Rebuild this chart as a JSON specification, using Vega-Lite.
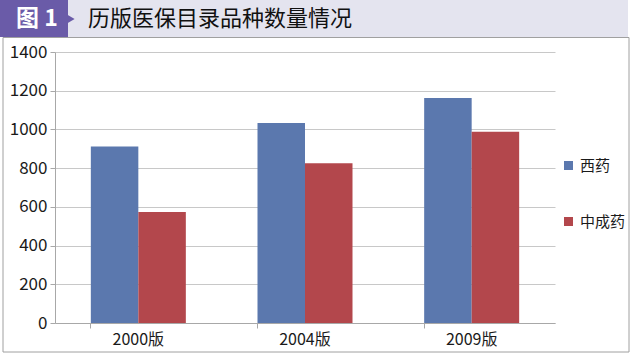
{
  "$schema": "https://vega.github.io/schema/vega-lite/v6.json",
  "width": 500,
  "height": 271,
  "autosize": {"type": "none"},
  "padding": {"left": 55, "top": 52, "right": 77, "bottom": 33},
  "background": "#ffffff",
  "config": {
    "view": {"stroke": null},
    "font": "Noto Sans CJK SC",
    "axis": {"labelFont": "Noto Sans CJK SC", "labelColor": "#1a1a1a"},
    "legend": {"labelFont": "Noto Sans CJK SC"}
  },
  "data": {
    "values": [
      {"edition": "2000版", "type": "西药", "count": 912},
      {"edition": "2000版", "type": "中成药", "count": 573},
      {"edition": "2004版", "type": "西药", "count": 1033},
      {"edition": "2004版", "type": "中成药", "count": 825},
      {"edition": "2009版", "type": "西药", "count": 1162},
      {"edition": "2009版", "type": "中成药", "count": 988}
    ]
  },
  "layer": [
    {
      "data": {"values": [{}]},
      "mark": {"type": "rect", "fill": "#e4e4ef", "stroke": null},
      "encoding": {"x": {"value": -55}, "x2": {"value": 573}, "y": {"value": -52}, "y2": {"value": -15}}
    },
    {
      "data": {"values": [{}]},
      "mark": {"type": "rect", "fill": null, "filled": false, "stroke": "#a0a0a0", "strokeWidth": 1},
      "encoding": {"x": {"value": -52}, "x2": {"value": 574}, "y": {"value": -14.5}, "y2": {"value": 300}}
    },
    {
      "data": {"values": [{}]},
      "mark": {"type": "rect", "fill": "#6a5ba8"},
      "encoding": {"x": {"value": -55}, "x2": {"value": 13}, "y": {"value": -52}, "y2": {"value": -15}}
    },
    {
      "data": {"values": [{}]},
      "mark": {"type": "point", "shape": "triangle-right", "filled": true, "fill": "#6a5ba8", "size": 70, "opacity": 1},
      "encoding": {"x": {"value": 16}, "y": {"value": -33}}
    },
    {
      "data": {"values": [{}]},
      "mark": {"type": "text", "text": "图 1", "color": "#ffffff", "fontSize": 23, "fontWeight": "bold", "align": "center", "baseline": "middle"},
      "encoding": {"x": {"value": -18}, "y": {"value": -33}}
    },
    {
      "data": {"values": [{}]},
      "mark": {"type": "text", "text": "历版医保目录品种数量情况", "color": "#111111", "fontSize": 22, "align": "left", "baseline": "middle"},
      "encoding": {"x": {"value": 33}, "y": {"value": -33}}
    },
    {
      "mark": {"type": "bar"},
      "encoding": {
        "x": {
          "field": "edition", "type": "nominal", "sort": null,
          "scale": {"paddingInner": 0.43, "paddingOuter": 0.215},
          "axis": {"title": null, "labelAngle": 0, "labelFontSize": 16, "labelPadding": 3, "bandPosition": 0, "tickSize": 5, "tickColor": "#a8a8a8", "domainColor": "#a8a8a8", "grid": false}
        },
        "xOffset": {"field": "type", "type": "nominal", "sort": ["西药", "中成药"], "scale": {"paddingInner": 0, "paddingOuter": 0}},
        "y": {
          "field": "count", "type": "quantitative",
          "scale": {"domain": [0, 1400], "nice": false},
          "axis": {"title": null, "format": "d", "values": [0, 200, 400, 600, 800, 1000, 1200, 1400], "labelFontSize": 17, "labelPadding": 3, "tickSize": 5, "tickColor": "#a8a8a8", "domainColor": "#a8a8a8", "gridColor": "#c8c8c8"}
        },
        "color": {
          "field": "type", "type": "nominal", "sort": ["西药", "中成药"],
          "scale": {"domain": ["西药", "中成药"], "range": ["#5b78ae", "#b3474c"]},
          "legend": {"title": null, "orient": "none", "legendX": 506, "legendY": 106, "symbolType": "square", "symbolSize": 81, "symbolOpacity": 1, "labelFontSize": 15, "labelColor": "#1a1a1a", "rowPadding": 40, "labelOffset": 4, "padding": 0}
        }
      }
    }
  ]
}
